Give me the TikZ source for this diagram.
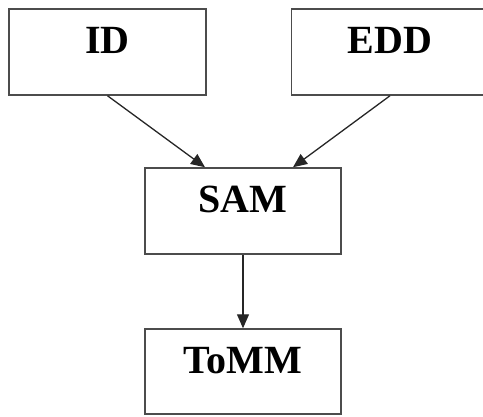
\documentclass[tikz,border=0pt]{standalone}
\usepackage{fontspec}
\setmainfont{Liberation Serif}
\usetikzlibrary{arrows.meta}
\begin{document}
\begin{tikzpicture}[x=1pt,y=-1pt,
  box/.style={draw=black!70,line width=1.5pt,rectangle,minimum width=197pt,minimum height=86pt,
    inner sep=0pt,text height=44pt,text depth=42pt,font=\fontsize{40}{41}\selectfont\bfseries},
  conn/.style={draw=black!85,line width=1.3pt,-{Triangle[length=14pt,width=12pt]}}]
\useasboundingbox (0,0) rectangle (483,416);
\node[box] (ID) at (107.5,52) {ID};
\node[box] (EDD) at (390,52) {EDD};
\node[box,minimum width=196pt] (SAM) at (243,211) {SAM};
\node[box,minimum width=196pt,minimum height=85pt,text depth=41pt] (ToMM) at (243,371.5) {ToMM};
\draw[conn] (ID.south) -- ([xshift=-38pt]SAM.north);
\draw[conn] (EDD.south) -- ([xshift=50pt]SAM.north);
\draw[conn] (SAM.south) -- (ToMM.north);
\end{tikzpicture}
\end{document}
